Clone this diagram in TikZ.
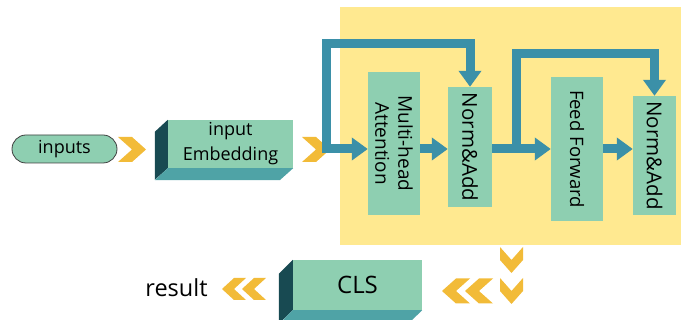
\documentclass[tikz,border=0pt]{standalone}
\usepackage{fontspec}
\setmainfont{Open Sans}
\usetikzlibrary{arrows.meta}
\definecolor{boxg}{HTML}{8ECFB1}
\definecolor{teal}{HTML}{3B90A8}
\definecolor{bgy}{HTML}{FFE990}
\definecolor{chevc}{HTML}{F2BB38}
\definecolor{darkf}{HTML}{184A52}
\definecolor{botf}{HTML}{4FA3A6}
\tikzset{
  gbox/.style={fill=boxg, draw=none, inner sep=0pt, font=\fontsize{19}{23}\selectfont},
  conn/.style={draw=teal, line width=9pt, line join=miter,
    -{Triangle[width=22pt,length=16pt]}},
  pics/chev/.style 2 args={code={
    \fill[chevc] (-#1/2,-#2/2) -- (0,-#2/2) -- (#1/2,0) -- (0,#2/2) -- (-#1/2,#2/2) -- (0,0) -- cycle;}},
}
\begin{document}
\begin{tikzpicture}[x=1pt,y=-1pt]
\useasboundingbox (0,0) rectangle (681,320);
\fill[bgy] (340,7) rectangle (681,245);

% input pill
\node[fill=boxg, draw=black!75, line width=0.8pt, rounded corners=14pt,
  minimum width=105, minimum height=28, inner sep=0pt,
  font=\fontsize{18}{22}\selectfont] (inp) at (64.5,149) {inputs};
\pic at (132,149.5) {chev={28}{25}};

% input embedding 3D box
\node[gbox, minimum width=125, minimum height=48, align=center,
  font=\fontsize{18}{25}\selectfont] (emb) at (230.5,144) {input\\Embedding};
\fill[darkf] (emb.north west) -- ++(-13,12) -- ++(0,48) -- (emb.south west) -- cycle;
\fill[botf] (emb.south west) -- ++(-13,12) -- ++(125,0) -- (emb.south east) -- cycle;
\pic at (316,149.5) {chev={28}{25}};

% encoder blocks (rotated: west=top, east=bottom, south=left, north=right)
\node[gbox, minimum height=52, minimum width=143, align=center, rotate=-90] (mha) at (394,143.5) {Multi-head\\Attention};
\node[gbox, minimum height=44, minimum width=120, rotate=-90, font=\fontsize{20.5}{24}\selectfont] (na1) at (470,147) {Norm\&Add};
\node[gbox, minimum height=52, minimum width=144, rotate=-90, font=\fontsize{18.5}{22}\selectfont] (ff) at (577,149) {Feed Forward};
\node[gbox, minimum height=43, minimum width=119, rotate=-90, font=\fontsize{20.5}{24}\selectfont] (na2) at (654.5,155.5) {Norm\&Add};

% connectors
\coordinate (in) at (322,149);
\coordinate (s1) at (326,153);
\coordinate (s2) at (516,153);
\draw[conn] (in) -- (in -| mha.south);
\draw[conn] (mha.north |- in) -- (in -| na1.south);
\draw[conn] (na1.north |- in) -- (in -| ff.south);
\draw[conn] (ff.north |- in) -- (in -| na2.south);
\draw[conn] (s1) -- (326,44) -| (na1.west);
\draw[conn] (s2) -- (516,54) -| (na2.west);

% output part
\pic[rotate=-90] at (511.5,260) {chev={26}{23}};
\pic[rotate=-90] at (511.5,291) {chev={26}{23}};
\pic[rotate=180] at (456,291) {chev={28}{25}};
\pic[rotate=180] at (479,291) {chev={28}{25}};

\node[gbox, minimum width=129, minimum height=50, font=\fontsize{24}{28}\selectfont] (cls) at (357.5,285) {CLS};
\fill[darkf] (cls.north west) -- ++(-14,14) -- ++(0,50) -- (cls.south west) -- cycle;
\fill[botf] (cls.south west) -- ++(-14,14) -- ++(129,0) -- (cls.south east) -- cycle;

\pic[rotate=180] at (234,289) {chev={24}{22}};
\pic[rotate=180] at (254,289) {chev={24}{22}};
\node[inner sep=0pt, font=\fontsize{23.5}{28}\selectfont] (res) at (176.5,288) {result};
\end{tikzpicture}
\end{document}
